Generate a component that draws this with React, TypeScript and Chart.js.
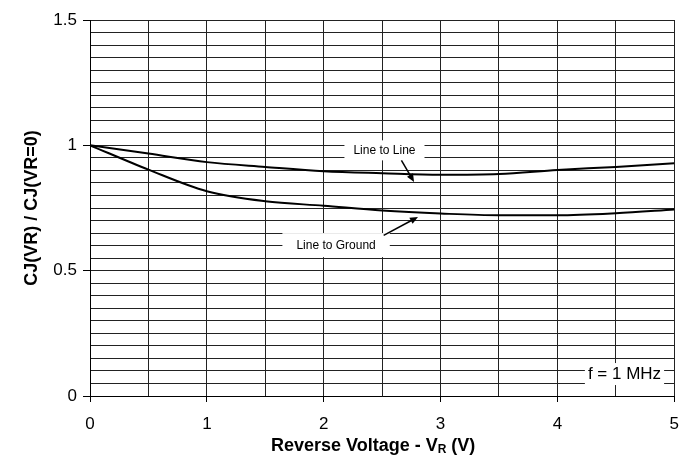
import React, { useEffect, useRef } from "react";
import { Chart, registerables } from "chart.js";

Chart.register(...registerables);

// ---- data ----
const voltages = [0, 0.5, 1, 1.5, 2, 2.5, 3, 3.5, 4, 4.5, 5];
const lineToLine = [1.0, 0.967, 0.933, 0.914, 0.897, 0.889, 0.883, 0.886, 0.902, 0.914, 0.929];
const lineToGround = [1.0, 0.903, 0.817, 0.777, 0.759, 0.74, 0.728, 0.721, 0.721, 0.729, 0.744];
const seriesNames = ["Line to Line", "Line to Ground"];
const xTickLabels = ["0", "1", "2", "3", "4", "5"];
const yTickLabels = ["0", "0.5", "1", "1.5"];
const xTitleMain = "Reverse Voltage - V";
const xTitleSub = "R";
const xTitleTail = " (V)";
const yTitle = "CJ(VR) / CJ(VR=0)";

// annotations (data coordinates)
const noteTexts = ["Line to Line", "Line to Ground", "f = 1 MHz"];
const noteX = [2.52, 2.106, 4.574];
const noteY = [0.98, 0.602, 0.0876];
const arrowFromX = [2.665, 2.513];
const arrowFromY = [0.94, 0.641];
const arrowToX = [2.773, 2.807];
const arrowToY = [0.854, 0.714];

// styles
const FONT = "'Liberation Sans', Arial, Helvetica, sans-serif";
const noteFontSize = [12, 12, 17];
const notePadX = [9, 14, 3];
const notePadY = [4, 6, 2.5];
const X_TITLE_SHIFT = -9;

function near(a: number, b: number) {
  return Math.abs(a - b) < 1e-6;
}

const overlayPlugin = {
  id: "overlay",
  afterDatasetsDraw(chart: any) {
    const ctx = chart.ctx;
    const xs = chart.scales.x;
    const ys = chart.scales.y;
    ctx.save();
    noteTexts.forEach((t, i) => {
      const cx = xs.getPixelForValue(noteX[i]);
      const cy = ys.getPixelForValue(noteY[i]);
      ctx.font = `${noteFontSize[i]}px ${FONT}`;
      const w = ctx.measureText(t).width + notePadX[i] * 2;
      const h = noteFontSize[i] + notePadY[i] * 2;
      ctx.fillStyle = "#fff";
      ctx.fillRect(cx - w / 2, cy - h / 2, w, h);
      ctx.fillStyle = "#000";
      ctx.textAlign = "center";
      ctx.textBaseline = "middle";
      ctx.fillText(t, cx, cy + 0.5);
    });
    arrowFromX.forEach((_, i) => {
      const x1 = xs.getPixelForValue(arrowFromX[i]);
      const y1 = ys.getPixelForValue(arrowFromY[i]);
      const x2 = xs.getPixelForValue(arrowToX[i]);
      const y2 = ys.getPixelForValue(arrowToY[i]);
      const ang = Math.atan2(y2 - y1, x2 - x1);
      const hl = 8;
      const hw = 3.5;
      ctx.strokeStyle = "#000";
      ctx.lineWidth = 1.5;
      ctx.beginPath();
      ctx.moveTo(x1, y1);
      ctx.lineTo(x2 - Math.cos(ang) * hl * 0.8, y2 - Math.sin(ang) * hl * 0.8);
      ctx.stroke();
      ctx.fillStyle = "#000";
      ctx.beginPath();
      ctx.moveTo(x2, y2);
      ctx.lineTo(
        x2 - Math.cos(ang) * hl + Math.sin(ang) * hw,
        y2 - Math.sin(ang) * hl - Math.cos(ang) * hw
      );
      ctx.lineTo(
        x2 - Math.cos(ang) * hl - Math.sin(ang) * hw,
        y2 - Math.sin(ang) * hl + Math.cos(ang) * hw
      );
      ctx.closePath();
      ctx.fill();
    });
    ctx.restore();
  },
  afterDraw(chart: any) {
    const ctx = chart.ctx;
    const area = chart.chartArea;
    ctx.save();
    ctx.fillStyle = "#000";
    const big = `bold 18px ${FONT}`;
    const small = `bold 12px ${FONT}`;
    ctx.font = big;
    const w1 = ctx.measureText(xTitleMain).width;
    const w3 = ctx.measureText(xTitleTail).width;
    ctx.font = small;
    const w2 = ctx.measureText(xTitleSub).width;
    const total = w1 + w2 + w3;
    const cx = (area.left + area.right) / 2 + X_TITLE_SHIFT;
    let x = cx - total / 2;
    const base = area.bottom + 55;
    ctx.textAlign = "left";
    ctx.textBaseline = "alphabetic";
    ctx.font = big;
    ctx.fillText(xTitleMain, x, base);
    x += w1;
    ctx.font = small;
    ctx.fillText(xTitleSub, x, base + 2);
    x += w2;
    ctx.font = big;
    ctx.fillText(xTitleTail, x, base);
    ctx.translate(32, (area.top + area.bottom) / 2);
    ctx.rotate(-Math.PI / 2);
    ctx.textAlign = "center";
    ctx.textBaseline = "middle";
    ctx.font = big;
    ctx.fillText(yTitle, 0, 0);
    ctx.restore();
  },
};

export default function App() {
  const ref = useRef<HTMLCanvasElement | null>(null);
  useEffect(() => {
    if (!ref.current) return;
    const chart = new Chart(ref.current, {
      type: "line",
      data: {
        datasets: [
          {
            label: seriesNames[0],
            data: voltages.map((v, i) => ({ x: v, y: lineToLine[i] })),
            borderColor: "#000",
            borderWidth: 2,
            pointRadius: 0,
            cubicInterpolationMode: "monotone",
            fill: false,
          },
          {
            label: seriesNames[1],
            data: voltages.map((v, i) => ({ x: v, y: lineToGround[i] })),
            borderColor: "#000",
            borderWidth: 2,
            pointRadius: 0,
            cubicInterpolationMode: "monotone",
            fill: false,
          },
        ],
      },
      options: {
        animation: false,
        responsive: true,
        maintainAspectRatio: false,
        layout: { padding: { top: 20, right: 16, left: 0, bottom: 0 } },
        plugins: {
          legend: { display: false },
          tooltip: { enabled: false },
        },
        scales: {
          x: {
            type: "linear",
            min: 0,
            max: 5,
            afterFit: (s: any) => {
              s.height = 59;
            },
            ticks: {
              stepSize: 0.5,
              autoSkip: false,
              maxRotation: 0,
              padding: 12,
              color: "#000",
              font: { family: FONT, size: 17 },
              callback: (v: any) => {
                const l = xTickLabels.find((t) => near(Number(t), Number(v)));
                return l === undefined ? "" : l;
              },
            },
            grid: {
              color: "#222",
              lineWidth: 1,
              tickLength: 6,
              tickColor: (c: any) =>
                c.tick && xTickLabels.some((t) => near(Number(t), c.tick.value)) ? "#000" : "rgba(0,0,0,0)",
            },
            border: { display: true, color: "#000", width: 1 },
          },
          y: {
            type: "linear",
            min: 0,
            max: 1.5,
            afterFit: (s: any) => {
              s.width = 90;
            },
            ticks: {
              stepSize: 0.05,
              autoSkip: false,
              padding: 6,
              color: "#000",
              font: { family: FONT, size: 17 },
              callback: (v: any) => {
                const l = yTickLabels.find((t) => near(Number(t), Number(v)));
                return l === undefined ? "" : l;
              },
            },
            grid: {
              color: "#222",
              lineWidth: 1,
              tickLength: 7,
              tickColor: (c: any) =>
                c.tick && yTickLabels.some((t) => near(Number(t), c.tick.value)) ? "#000" : "rgba(0,0,0,0)",
            },
            border: { display: true, color: "#000", width: 1 },
          },
        },
      },
      plugins: [overlayPlugin],
    } as any);
    return () => chart.destroy();
  }, []);
  return (
    <div style={{ position: "absolute", left: 0, top: 0, width: 691, height: 455, background: "#fff" }}>
      <canvas ref={ref} />
    </div>
  );
}
